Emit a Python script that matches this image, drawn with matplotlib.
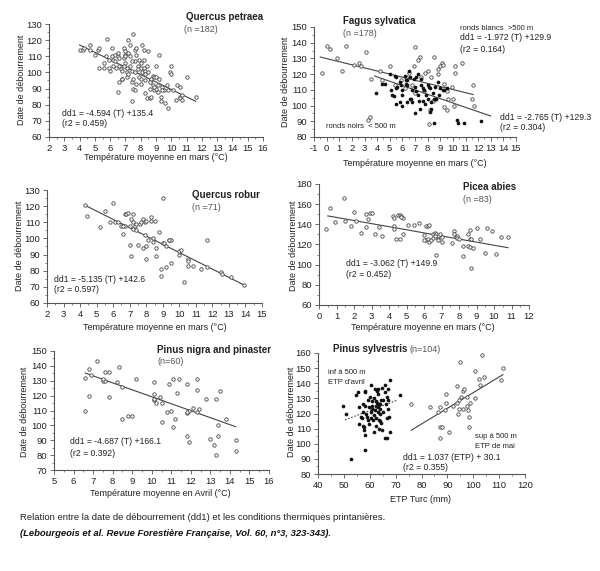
import matplotlib
matplotlib.use("Agg")
import matplotlib.pyplot as plt
from matplotlib.ticker import MultipleLocator

plt.rcParams['font.family'] = ['Liberation Sans', 'DejaVu Sans']
plt.rcParams['axes.unicode_minus'] = False

# === données ===
# Quercus petraea
qp_t = [4.0, 4.2, 4.3, 4.7, 4.7, 5.0, 5.2, 5.3, 5.3, 5.6, 5.7, 5.8, 5.9, 5.9, 6.0, 6.1, 6.1, 6.2, 6.3, 6.3,
        6.5, 6.5, 6.5, 6.6, 6.6, 6.7, 6.8, 6.8, 6.9, 6.9, 7.0, 7.0, 7.0, 7.1, 7.1, 7.2, 7.2, 7.3, 7.3, 7.3,
        7.4, 7.4, 7.4, 7.5, 7.5, 7.5, 7.6, 7.6, 7.6, 7.7, 7.7, 7.8, 7.8, 7.9, 8.0, 8.0, 8.0, 8.1, 8.1, 8.2,
        8.2, 8.2, 8.3, 8.3, 8.3, 8.4, 8.4, 8.5, 8.5, 8.6, 8.6, 8.7, 8.7, 8.8, 8.8, 8.9, 8.9, 9.0, 9.0, 9.1,
        9.1, 9.2, 9.2, 9.3, 9.3, 9.4, 9.5, 9.6, 9.7, 9.8, 9.8, 9.9, 10.0, 10.0, 10.1, 10.3, 10.4, 10.6, 10.6, 10.6,
        10.7, 10.7, 11.0, 11.6, 6.8, 7.1, 7.6, 7.9, 8.3, 8.7, 8.9, 6.4, 6.9, 7.2, 7.7, 8.0, 8.6, 9.0, 9.4, 5.6,
        6.2, 6.6, 7.0, 7.4]
qp_d = [114, 114, 115, 117, 114, 111, 114, 115, 103, 103, 110, 121, 103, 108, 101, 115, 110, 108, 107, 111,
        110, 112, 88, 94, 104, 102, 96, 96, 115, 109, 111, 110, 106, 100, 103, 112, 120, 117, 110, 104,
        101, 94, 82, 124, 96, 90, 89, 107, 114, 115, 111, 104, 102, 97, 106, 103, 96, 100, 117, 114,
        108, 103, 101, 95, 87, 84, 104, 100, 113, 90, 84, 85, 95, 98, 92, 89, 97, 104, 90, 88,
        92, 111, 96, 82, 85, 91, 89, 81, 92, 78, 89, 100, 99, 104, 89, 83, 92, 91, 85, 84,
        86, 83, 97, 85, 101, 97, 100, 108, 99, 96, 91, 103, 104, 99, 93, 93, 94, 97, 89, 106,
        104, 109, 113, 107]

# Fagus sylvatica : ronds blancs (>500 m) et ronds noirs (<500 m)
fs_blanc_t = [-0.4, 0.0, 0.3, 0.8, 1.2, 1.5, 2.2, 2.6, 2.7, 3.1, 3.3, 3.4, 3.5, 4.2, 4.4, 5.0, 5.4, 5.9, 6.3, 6.5,
              6.8, 6.9, 7.0, 7.2, 7.4, 7.5, 7.7, 7.8, 8.0, 8.1, 8.2, 8.3, 8.4, 8.5, 8.8, 8.8, 9.0, 9.1, 9.2, 9.3,
              9.5, 9.5, 9.6, 10.0, 10.1, 10.2, 10.2, 10.7, 11.5, 11.6, 11.7, 8.6, 9.3, 7.0, 6.2, 9.9]
fs_blanc_d = [121, 138, 136, 130, 122, 138, 126, 127, 125, 134, 91, 93, 117, 122, 116, 125, 113, 116, 118, 121,
              113, 125, 137, 129, 131, 118, 109, 121, 122, 88, 97, 118, 103, 131, 120, 123, 125, 127, 126, 99,
              97, 109, 104, 104, 100, 125, 121, 127, 104, 113, 100, 104, 114, 108, 111, 112]
fs_noir_t = [3.9, 4.4, 4.6, 5.0, 5.1, 5.2, 5.3, 5.4, 5.5, 5.5, 5.6, 5.8, 5.9, 6.0, 6.0, 6.2, 6.3, 6.4, 6.5, 6.6,
             6.7, 6.8, 6.9, 7.0, 7.0, 7.1, 7.2, 7.3, 7.5, 7.5, 7.6, 7.7, 7.8, 7.9, 8.0, 8.1, 8.2, 8.3, 8.4, 8.5,
             8.5, 8.6, 8.8, 8.9, 9.0, 9.2, 9.5, 7.4, 8.3, 10.3, 10.4, 10.9, 12.2, 6.0, 6.4, 7.2, 5.8, 6.8, 7.6, 8.0,
             9.3, 8.7, 8.2, 6.4, 7.1, 6.6, 5.5, 6.3]
fs_noir_d = [108, 114, 114, 120, 110, 107, 106, 119, 118, 101, 112, 115, 113, 107, 110, 119, 116, 113, 122, 104,
             104, 110, 117, 112, 95, 109, 107, 103, 117, 113, 111, 110, 101, 107, 113, 112, 111, 102, 108, 104,
             89, 112, 115, 107, 111, 110, 111, 98, 98, 91, 89, 89, 90, 100, 102, 120, 102, 102, 103, 104,
             110, 104, 96, 116, 118, 118, 111, 114]

# Quercus robur
qr_t = [4.3, 4.4, 5.2, 5.5, 5.8, 6.0, 6.1, 6.3, 6.5, 6.6, 6.7, 6.7, 6.8, 6.9, 7.0, 7.0, 7.1, 7.2, 7.2, 7.2,
        7.3, 7.4, 7.5, 7.6, 7.7, 7.8, 7.8, 7.9, 7.9, 8.0, 8.0, 8.0, 8.1, 8.3, 8.4, 8.4, 8.5, 8.6, 8.6, 8.8,
        8.9, 8.9, 9.0, 9.0, 9.1, 9.2, 9.2, 9.4, 9.5, 9.5, 10.0, 10.0, 10.1, 10.3, 10.5, 10.5, 10.8, 11.3, 11.7, 11.7,
        12.5, 12.6, 13.1, 13.9, 7.4, 8.3, 6.6, 7.1, 9.4, 10.5]
qr_d = [121, 114, 107, 117, 110, 122, 110, 110, 108, 103, 115, 108, 115, 116, 108, 96, 89, 115, 110, 106,
        108, 105, 96, 109, 110, 112, 94, 102, 110, 111, 95, 87, 99, 113, 100, 98, 111, 94, 89, 104,
        81, 77, 125, 97, 97, 95, 82, 99, 99, 85, 92, 90, 93, 73, 87, 83, 83, 81, 99, 82,
        79, 78, 76, 71, 109, 111, 108, 112, 99, 86]

# Picea abies
pa_t = [0.4, 0.6, 0.9, 1.4, 1.5, 1.8, 2.0, 2.1, 2.4, 2.7, 2.7, 2.8, 2.9, 3.0, 3.2, 3.4, 3.6, 4.2, 4.3, 4.3,
        4.3, 4.4, 4.5, 4.6, 4.6, 4.7, 4.8, 4.8, 5.1, 5.4, 5.7, 6.0, 6.1, 6.2, 6.3, 6.1, 6.2, 6.3, 6.4, 6.5,
        6.5, 6.6, 6.7, 6.8, 6.9, 6.8, 6.8, 6.7, 7.0, 7.0, 7.6, 7.7, 7.7, 7.8, 7.9, 7.9, 8.0, 8.2, 8.2, 8.5,
        8.5, 8.6, 8.6, 8.6, 8.7, 8.7, 8.8, 9.0, 9.2, 9.5, 9.6, 9.9, 10.1, 10.4, 10.8, 6.0, 6.6, 4.7]
pa_d = [135, 156, 142, 166, 143, 138, 152, 143, 131, 150, 137, 145, 151, 151, 130, 137, 128, 148, 146, 138,
        135, 125, 149, 125, 149, 148, 146, 130, 139, 139, 141, 129, 138, 138, 139, 124, 125, 122, 124, 126,
        130, 131, 130, 128, 130, 125, 124, 110, 122, 127, 121, 133, 130, 127, 128, 126, 125, 119, 109, 119,
        130, 125, 134, 118, 125, 97, 117, 136, 125, 112, 136, 133, 111, 127, 127, 124, 128, 147]

# Pinus nigra et pinaster
pn_t = [6.6, 6.6, 6.8, 6.8, 6.9, 7.2, 7.5, 7.6, 7.6, 7.8, 7.8, 8.2, 8.3, 8.5, 8.5, 8.8, 9.0, 9.2, 10.1, 10.1,
        10.1, 10.2, 10.4, 10.5, 10.5, 10.8, 10.9, 11.0, 11.1, 11.1, 11.2, 11.3, 11.4, 11.8, 11.8, 11.8, 11.9, 11.9, 12.1, 12.3,
        12.3, 12.3, 12.4, 12.8, 13.0, 13.2, 13.3, 13.3, 13.4, 13.4, 13.5, 13.8, 14.3, 14.3, 10.1, 7.5, 11.8]
pn_d = [132, 110, 120, 138, 134, 143, 130, 130, 136, 136, 119, 129, 139, 126, 104, 106, 106, 131, 129, 121,
        117, 115, 119, 102, 115, 109, 128, 110, 131, 99, 104, 122, 131, 128, 108, 93, 110, 89, 112, 109,
        124, 131, 111, 118, 91, 87, 80, 118, 93, 100, 123, 104, 90, 83, 118, 131, 109]

# Pinus sylvestris : inf à 500 m (ETP d'avril) et sup à 500 m (ETP de mai)
ps_inf_etp = [49.8, 50.8, 52.6, 54.8, 55.3, 55.8, 56.0, 56.5, 57.0, 57.2, 57.5, 57.8, 57.9, 58.0, 58.0, 58.1, 58.1, 58.3, 58.5, 59.0,
              59.2, 59.5, 59.8, 60.0, 60.3, 60.5, 60.5, 60.8, 61.0, 61.2, 61.5, 61.6, 61.8, 62.0, 62.0, 62.3, 62.5, 62.6, 62.8, 62.9,
              63.0, 63.0, 63.2, 63.3, 63.4, 63.5, 63.6, 63.8, 64.0, 64.1, 64.2, 64.5, 64.7, 64.8, 65.0, 65.3, 65.8, 65.8, 66.0, 66.3,
              66.5, 66.5, 66.8, 66.9, 67.0, 67.2, 67.5, 67.8, 68.0, 71.5, 61.0, 62.3, 64.0, 59.7, 57.4]
ps_inf_d = [125, 120, 90, 132, 134, 124, 113, 118, 117, 112, 121, 111, 109, 135, 134, 106, 96, 125, 120, 118,
            129, 116, 124, 131, 121, 117, 139, 125, 128, 116, 108, 130, 119, 122, 136, 117, 125, 112, 135, 127,
            121, 136, 133, 124, 116, 110, 126, 123, 115, 126, 129, 114, 137, 109, 121, 129, 134, 139, 104, 126,
            117, 131, 104, 136, 123, 129, 118, 142, 108, 132, 123, 128, 120, 113, 126]
ps_sup_etp = [75.8, 83.1, 86.5, 87.0, 87.0, 87.3, 88.0, 89.0, 89.3, 89.3, 90.5, 92.0, 93.8, 93.9, 94.2, 94.5, 95.0, 95.2, 96.0, 96.2,
              96.3, 97.5, 97.5, 98.0, 98.2, 98.3, 98.7, 100.5, 100.6, 102.1, 102.7, 103.2, 104.2, 110.7, 111.5, 94.5]
ps_sup_d = [126, 124, 121, 104, 111, 124, 111, 122, 127, 133, 108, 125, 127, 138, 120, 123, 154, 131, 123, 135,
            136, 131, 125, 122, 111, 118, 127, 130, 148, 143, 139, 159, 144, 142, 150, 129]

# droites de régression (pente, ordonnée, étendue en x)
reg_qp = (-4.594, 135.4, 4.0, 11.6)
reg_fs_blanc = (-1.972, 129.9, -0.5, 11.6)
reg_fs_noir = (-2.765, 129.3, 3.8, 13.0)
reg_qr = (-5.135, 142.6, 4.3, 13.9)
reg_pa = (-3.062, 149.9, 0.5, 10.8)
reg_pn = (-4.687, 166.1, 6.6, 14.3)
reg_ps_sup = (1.037, 30.1, 76.0, 111.5)
reg_ps_inf = (0.644, 83.3, 50.4, 70.9)

W, H = 600, 571
fig = plt.figure(figsize=(W / 100, H / 100), dpi=100)
TXT = '#222222'
EQ = 6.2


def px_axes(l, r, t, b):
    return fig.add_axes([l / W, 1 - b / H, (r - l) / W, (b - t) / H])


def ftext(x, y, s, **kw):
    kw.setdefault('fontsize', 6.5)
    kw.setdefault('color', TXT)
    kw.setdefault('va', 'center')
    fig.text(x / W, 1 - y / H, s, **kw)


def style(ax, xlim, ylim, xstep, ystep):
    ax.set_xlim(*xlim)
    ax.set_ylim(*ylim)
    ax.xaxis.set_major_locator(MultipleLocator(xstep))
    ax.yaxis.set_major_locator(MultipleLocator(ystep))
    ax.xaxis.set_minor_locator(MultipleLocator(xstep / 2))
    ax.yaxis.set_minor_locator(MultipleLocator(ystep / 2))
    for s in ['top', 'right']:
        ax.spines[s].set_visible(False)
    for s in ['left', 'bottom']:
        ax.spines[s].set_color('#555555')
        ax.spines[s].set_linewidth(0.8)
    ax.tick_params(which='major', length=3, width=0.6, color='#555555', labelsize=6.8,
                   labelcolor=TXT, pad=2, direction='out')
    ax.tick_params(which='minor', length=1.5, width=0.5, color='#555555', direction='out')
    ax.patch.set_alpha(0)


def open_pts(ax, x, y):
    ax.scatter(x, y, s=6, facecolors='white', edgecolors='#444444', linewidths=0.6, zorder=3)


def black_pts(ax, x, y):
    ax.scatter(x, y, s=7, color='#111111', linewidths=0, zorder=3)


def reg(ax, r, ls='-'):
    a, b, x0, x1 = r
    ax.plot([x0, x1], [a * x0 + b, a * x1 + b], color='#444444', lw=0.8, ls=ls, zorder=2)


# === 1. Quercus petraea ===
ax1 = px_axes(49, 263, 24, 137)
style(ax1, (2, 16), (60, 130), 1, 10)
open_pts(ax1, qp_t, qp_d)
reg(ax1, reg_qp)
ftext(186, 17, 'Quercus petraea', fontweight='bold', fontsize=7)
ftext(184, 29, '(n =182)', color='#555555')
ftext(62, 113, 'dd1 = -4.594 (T) +135.4', fontsize=EQ)
ftext(62, 124, '(r2 = 0.459)', fontsize=EQ)
ftext(156, 158, 'Température moyenne en mars (°C)', ha='center')
ftext(22, 80, 'Date de débourrement', rotation=90, ha='center')

# === 2. Fagus sylvatica ===
ax2 = px_axes(314, 516, 27, 137)
style(ax2, (-1, 15), (80, 150), 1, 10)
open_pts(ax2, fs_blanc_t, fs_blanc_d)
black_pts(ax2, fs_noir_t, fs_noir_d)
reg(ax2, reg_fs_blanc)
reg(ax2, reg_fs_noir)
ftext(343, 21, 'Fagus sylvatica', fontweight='bold', fontsize=7)
ftext(343, 33, '(n =178)', color='#555555')
ftext(460, 28, 'ronds blancs  >500 m', fontsize=5.5)
ftext(460, 38, 'dd1 = -1.972 (T) +129.9', fontsize=EQ)
ftext(460, 49, '(r2 = 0.164)', fontsize=EQ)
ftext(500, 117, 'dd1 = -2.765 (T) +129.3', fontsize=EQ)
ftext(500, 128, '(r2 = 0.304)', fontsize=EQ)
ftext(326, 127, 'ronds noirs  < 500 m', fontsize=5.5)
ftext(415, 163, 'Température moyenne en mars (°C)', ha='center')
ftext(285, 82, 'Date de débourrement', rotation=90, ha='center')

# === 3. Quercus robur ===
ax3 = px_axes(47, 262, 190, 303)
style(ax3, (2, 15), (60, 130), 1, 10)
open_pts(ax3, qr_t, qr_d)
reg(ax3, reg_qr)
ftext(192, 195, 'Quercus robur', fontweight='bold', fontsize=7)
ftext(192, 207, '(n =71)', color='#555555')
ftext(54, 279, 'dd1 = -5.135 (T) +142.6', fontsize=EQ)
ftext(54, 290, '(r2 = 0.597)', fontsize=EQ)
ftext(155, 327, 'Température moyenne en mars (°C)', ha='center')
ftext(20, 246, 'Date de débourrement', rotation=90, ha='center')

# === 4. Picea abies ===
ax4 = px_axes(319, 529, 184, 305)
style(ax4, (0, 12), (60, 180), 1, 20)
open_pts(ax4, pa_t, pa_d)
reg(ax4, reg_pa)
ftext(463, 187, 'Picea abies', fontweight='bold', fontsize=7)
ftext(463, 199, '(n =83)', color='#555555')
ftext(346, 263, 'dd1 = -3.062 (T) +149.9', fontsize=EQ)
ftext(346, 275, '(r2 = 0.452)', fontsize=EQ)
ftext(423, 327, 'Température moyenne en mars (°C)', ha='center')
ftext(293, 246, 'Date de débourrement', rotation=90, ha='center')

# === 5. Pinus nigra and pinaster ===
ax5 = px_axes(54, 269, 351, 470)
style(ax5, (5, 16), (70, 150), 1, 10)
open_pts(ax5, pn_t, pn_d)
reg(ax5, reg_pn)
ftext(157, 350, 'Pinus nigra and pinaster', fontweight='bold', fontsize=7)
ftext(157, 362, '(n=60)', color='#555555')
ftext(70, 442, 'dd1 = -4.687 (T) +166.1', fontsize=EQ)
ftext(70, 454, '(r2 = 0.392)', fontsize=EQ)
ftext(160, 493, 'Température moyenne en Avril (°C)', ha='center')
ftext(25, 412, 'Date de débourrement', rotation=90, ha='center')

# === 6. Pinus sylvestris ===
ax6 = px_axes(318, 525, 353, 474)
style(ax6, (40, 120), (80, 160), 10, 10)
black_pts(ax6, ps_inf_etp, ps_inf_d)
open_pts(ax6, ps_sup_etp, ps_sup_d)
reg(ax6, reg_ps_sup)
reg(ax6, reg_ps_inf, ls=(0, (1.5, 1.5)))
ftext(333, 349, 'Pinus sylvestris', fontweight='bold', fontsize=7)
ftext(410, 349, '(n=104)', color='#555555')
ftext(328, 373, 'inf à 500 m', fontsize=5.5)
ftext(328, 383, "ETP d'avril", fontsize=5.5)
ftext(475, 436, 'sup à 500 m', fontsize=5.5)
ftext(475, 446, 'ETP de mai', fontsize=5.5)
ftext(403, 458, 'dd1 = 1.037 (ETP) + 30.1', fontsize=EQ)
ftext(403, 468, '(r2 = 0.355)', fontsize=EQ)
ftext(420, 499, 'ETP Turc (mm)', ha='center')
ftext(292, 412, 'Date de débourrement', rotation=90, ha='center')

# === légende ===
ftext(20, 518, 'Relation entre la date de débourrement (dd1) et les conditions thermiques printanières.', fontsize=6.8)
ftext(20, 533, '(Lebourgeois et al. Revue Forestière Française, Vol. 60, n°3, 323-343).',
      fontsize=6.8, fontweight='bold', fontstyle='italic', color='#111111')

fig.savefig('out.png', dpi=100, facecolor='white')
